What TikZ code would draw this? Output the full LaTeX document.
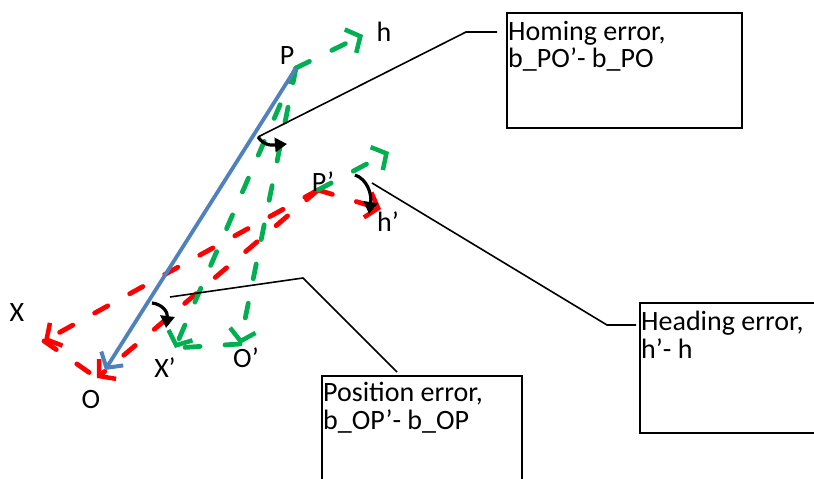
\documentclass[tikz,border=0pt]{standalone}
\usepackage{fontspec}
\setmainfont{Carlito}
\usetikzlibrary{arrows.meta}

\definecolor{trueblue}{RGB}{79,129,189}
\definecolor{homegreen}{RGB}{0,176,80}
\definecolor{errred}{RGB}{255,0,0}

\tikzset{
  lbl/.style={font=\fontsize{28}{27.5}\selectfont,inner sep=0pt},
  vecdash/.style={line width=4.8pt,line cap=round,dash pattern=on 15pt off 25pt},
  vecarrow/.style={vecdash,-{Straight Barb[length=11pt,width=26pt,line width=4.5pt]}},
  anglearc/.style={line width=3.2pt,-{Triangle[length=12pt,width=14pt]}},
  callout/.style={line width=1.6pt},
  errbox/.style={draw,line width=1.8pt,inner sep=0pt,anchor=north west},
  boxtext/.style={lbl,align=left,anchor=north west}
}

\begin{document}
\begin{tikzpicture}[x=1pt,y=-1pt,>=stealth]
\clip (0,0) rectangle (814,479);

% points of the two frames
\coordinate (P) at (296,68);
\coordinate (h) at (363,35);
\coordinate (Ob) at (105,370);
\coordinate (O) at (97,378);
\coordinate (X) at (44,341);
\coordinate (Pp) at (318,190);
\coordinate (hp) at (381,209);
\coordinate (hg) at (389,152);
\coordinate (Xp) at (175,348);
\coordinate (Op) at (240,344);

% estimated frame
\draw[vecarrow,errred] (Pp) -- (X);
\draw[vecarrow,errred] (Pp) -- (O);
\draw[vecdash,errred] (X) -- (O);
\draw[vecarrow,errred] (Pp) -- (hp);

% homing frame
\draw[vecarrow,homegreen] (P) -- (Xp);
\draw[vecarrow,homegreen] (P) -- (Op);
\draw[vecdash,homegreen] (Op) -- (Xp);
\draw[vecarrow,homegreen] (P) -- (h);
\draw[vecarrow,homegreen] (Pp) -- (hg);

% true home vector
\draw[trueblue,line width=3.8pt,-{Straight Barb[length=11pt,width=26pt,line width=4pt]}] (P) -- (Ob);

% angles
\coordinate (homA) at (258,137);
\coordinate (posA) at (152,303);
\coordinate (headA) at (355,175);
\draw[anglearc] (homA) .. controls (265,147) and (274,145) .. (287,144);
\draw[anglearc] (posA) .. controls (162,304) and (168,312) .. (166,328);
\draw[anglearc] (headA) .. controls (367,179) and (372,194) .. (369,214);

% labels
\node[lbl] (lblP) at (287,56) {P};
\node[lbl] (lblh) at (384,32) {h};
\node[lbl] (lblPp) at (323,182) {P’};
\node[lbl] (lblhp) at (388,222) {h’};
\node[lbl] (lblX) at (17,313) {X};
\node[lbl] (lblXp) at (165,368) {X’};
\node[lbl] (lblOp) at (246,358) {O’};
\node[lbl] (lblO) at (91,400) {O};

% error boxes
\node[errbox,minimum width=235pt,minimum height=115pt] (homing) at (506,12) {};
\node[boxtext] (homingtxt) at ([shift={(2,9)}]homing.north west) {Homing error,\\b\_PO’- b\_PO};
\node[errbox,minimum width=200pt,minimum height=130pt] (heading) at (639,302) {};
\node[boxtext] (headingtxt) at ([shift={(2,9)}]heading.north west) {Heading error,\\h’- h};
\node[errbox,minimum width=200pt,minimum height=130pt] (position) at (321,375) {};
\node[boxtext] (positiontxt) at ([shift={(2,7)}]position.north west) {Position error,\\b\_OP’- b\_OP};

% callout lines
\coordinate (homK) at (466,32);
\coordinate (homE) at (497,32);
\coordinate (headK) at (607,325);
\coordinate (headE) at (636,325);
\coordinate (posS) at (170,297);
\coordinate (posK) at (303,278);
\coordinate (posE) at (397,372);
\draw[callout] (homA) -- (homK) -- (homE);
\draw[callout] (372,183) -- (headK) -- (headE);
\draw[callout] (posS) -- (posK) -- (posE);
\end{tikzpicture}
\end{document}
